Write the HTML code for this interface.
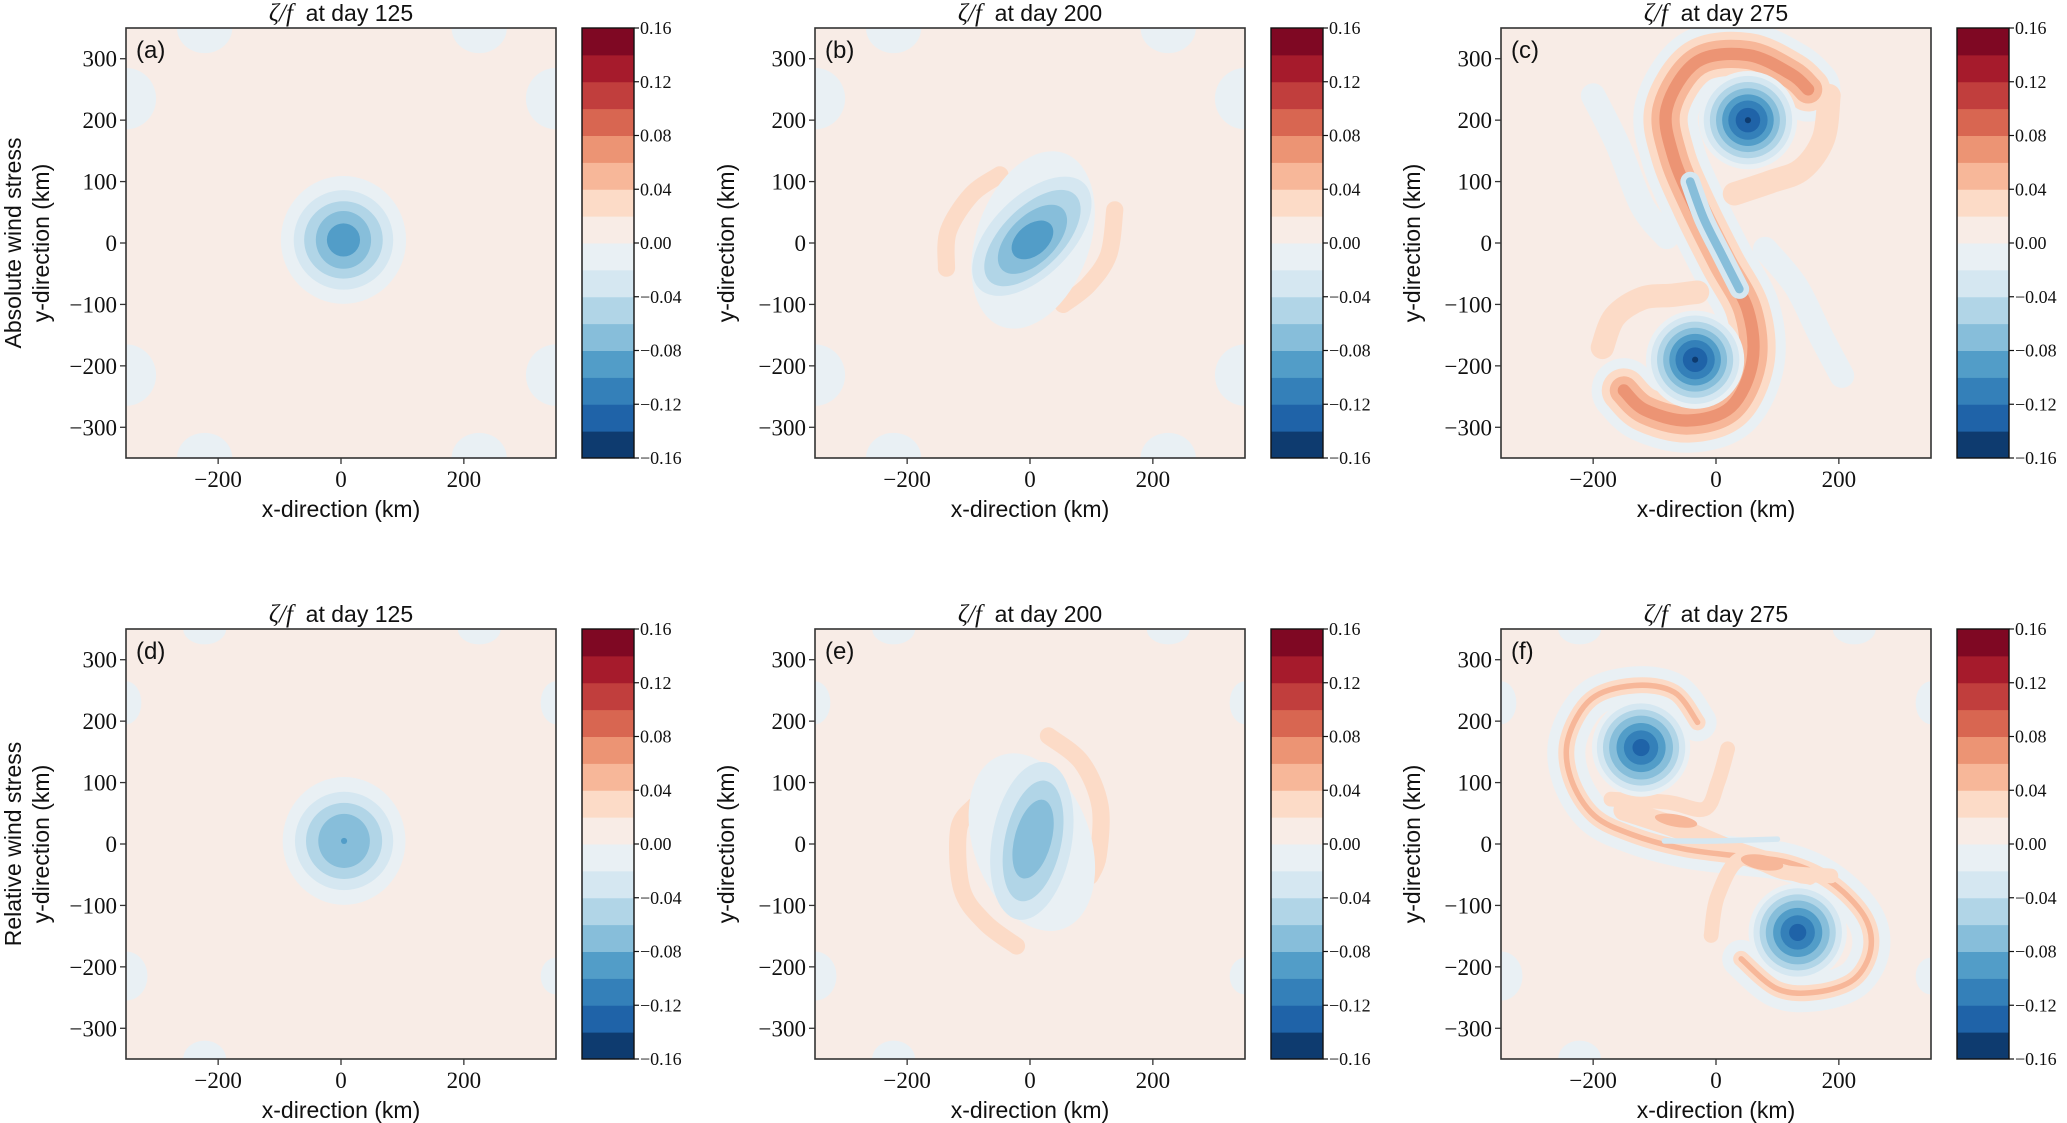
<!DOCTYPE html>
<html><head><meta charset="utf-8"><style>
html,body{margin:0;padding:0;background:#fff;}
svg{display:block;}
.tk{font-family:"Liberation Serif",serif;font-size:23px;fill:#111;}
.cb{font-family:"Liberation Serif",serif;font-size:18px;fill:#111;}
.lb{font-family:"Liberation Sans",sans-serif;font-size:23px;fill:#111;}
.pl{font-family:"Liberation Sans",sans-serif;font-size:24px;fill:#111;}
</style></head><body>
<svg id="fig" width="2067" height="1123" viewBox="0 0 2067 1123" xmlns="http://www.w3.org/2000/svg"></svg>
<script>
// ---- data ----
const levelColors = ["#0e3b6f","#1f63a8","#3480b9","#529dc8","#87beda","#b1d5e7","#d5e7f1","#e9f0f4","#f8ece6","#fcdbc7","#f7b799","#ec9474","#d86651","#c13e3d","#a61b2c","#7f0823"];
const cbarTicks = [0.16,0.12,0.08,0.04,0.00,-0.04,-0.08,-0.12,-0.16];
const cbarTickLabels = ["0.16","0.12","0.08","0.04","0.00","\u22120.04","\u22120.08","\u22120.12","\u22120.16"];
const xTicks = [-200,0,200];
const xTickLabels = ["\u2212200","0","200"];
const yTicks = [300,200,100,0,-100,-200,-300];
const yTickLabels = ["300","200","100","0","\u2212100","\u2212200","\u2212300"];
const panelTitles = ["125","200","275","125","200","275"];
const panelLetters = ["(a)","(b)","(c)","(d)","(e)","(f)"];

// ellipses: [cx, cy, rx, ry, rotDeg, levelIndex] in km
const cornersA = [[-222,350,45,41,0,7],[225,350,45,41,0,7],[-222,-350,45,41,0,7],[225,-350,45,41,0,7],[-350,235,49,50,0,7],[350,235,49,50,0,7],[-350,-215,49,50,0,7],[350,-215,49,50,0,7]];
const ellA = [[4,5,102,104,0,7],[4,5,81,81,0,6],[4,5,64,63,0,5],[4,5,45,47,0,4],[4,5,27,27,0,3]];
const ellB = [[5,5,92,150,20,7],[3,11,121,65,-45,6],[4,8,99,50,-45,5],[4,6,70,38,-45,4],[4,5,39,25,-40,3]];
const ellC = [[52,200,80,80,0,7],[52,200,72,72,0,6],[52,200,62,62,0,5],[52,200,52,52,0,4],[52,200,42,42,0,3],[52,200,32,32,0,2],[52,200,20,20,0,1],[52,200,5,5,0,0],
              [-34,-190,80,80,0,7],[-34,-190,72,72,0,6],[-34,-190,62,62,0,5],[-34,-190,52,52,0,4],[-34,-190,42,42,0,3],[-34,-190,32,32,0,2],[-34,-190,20,20,0,1],[-34,-190,5,5,0,0]];
const ellD = [[5,5,100,104,0,7],[5,5,80,80,0,6],[5,5,62,62,0,5],[5,5,42,44,0,4],[5,5,5,5,45,3]];
const ellE = [[3,3,95,150,-20,7],[3,5,65,130,10,6],[5,5,46,100,12,5],[5,8,30,66,15,4]];
const ellF = [[-65,38,35,10,10,10],[75,-30,35,12,10,10],
              [-122,157,80,80,0,7],[-122,157,72,72,0,6],[-122,157,62,62,0,5],[-122,157,52,52,0,4],[-122,157,40,40,0,3],[-122,157,28,28,0,2],[-122,157,14,14,0,1],
              [133,-144,80,80,0,7],[133,-144,72,72,0,6],[133,-144,62,62,0,5],[133,-144,52,52,0,4],[133,-144,40,40,0,3],[133,-144,28,28,0,2],[133,-144,14,14,0,1]];
const cornersSmall = [[-222,350,35,25,0,7],[225,350,35,25,0,7],[-222,-350,35,30,0,7],[-350,230,25,35,0,7],[350,230,25,35,0,7],[-350,-215,35,40,0,7],[350,-215,25,30,0,7]];

// arms: {pts:[[x,y]...] km, w: width km, lev}
const armsB = [{pts:[[-49,111],[-95,79],[-133,19],[-136,-41]],w:28,lev:9},{pts:[[138,54],[128,-19],[95,-68],[54,-100]],w:28,lev:9}];
const armsE = [{pts:[[-90,62],[-116,24],[-111,-73],[-73,-128],[-22,-166]],w:28,lev:9},{pts:[[30,176],[84,133],[114,62],[111,-19],[98,-52]],w:28,lev:9}];
const cMain = [[150,250],[122,275],[52,306],[-31,295],[-80,220],[-70,143],[-35,59],[10,-31],[52,-110],[59,-194],[24,-267],[-45,-289],[-115,-272],[-150,-240]];
const cStripe = [[-42,100],[-20,40],[10,-20],[38,-75]];
const armsC = [
  {pts:[[-200,240],[-160,160],[-120,60],[-80,10]],w:40,lev:7},
  {pts:[[80,-10],[130,-70],[170,-150],[205,-216]],w:40,lev:7},
  {pts:cMain,w:105,lev:7},
  {pts:[[184,240],[175,170],[140,120],[90,100],[30,80]],w:38,lev:9},
  {pts:[[-185,-170],[-165,-120],[-120,-90],[-70,-85],[-30,-80]],w:38,lev:9},
  {pts:cMain,w:72,lev:9},
  {pts:cMain,w:46,lev:10},
  {pts:cMain,w:20,lev:11},
  {pts:cStripe,w:32,lev:6},
  {pts:cStripe,w:14,lev:4}
];
const fMain = [[-30,198],[-68,247],[-133,258],[-203,236],[-241,171],[-236,106],[-198,46],[-133,14],[-52,-8],[30,-19],[117,-30],[187,-62],[241,-117],[252,-171],[225,-220],[165,-241],[100,-236],[41,-187]];
const fCenter = [[-150,55],[-60,25],[30,-12],[150,-50]];
const armsF = [
  {pts:fMain,w:62,lev:7},
  {pts:fCenter,w:34,lev:9},
  {pts:fMain,w:26,lev:9},
  {pts:fMain,w:9,lev:10},
  {pts:[[19,155],[3,100],[-19,57],[-79,68],[-171,73]],w:24,lev:9},
  {pts:[[-8,-149],[3,-84],[41,-24],[111,-46],[187,-52]],w:24,lev:9},
  {pts:[[-84,5],[0,5],[100,8]],w:9,lev:6}
];

const panels = [
  {left:126,top:28, ell:[...cornersA,...ellA], arms:[]},
  {left:815,top:28, ell:[...cornersA], ell2:ellB, arms:armsB},
  {left:1501,top:28, ell:[], ell2:ellC, arms:armsC},
  {left:126,top:629, ell:[...cornersSmall,...ellD], arms:[]},
  {left:815,top:629, ell:[...cornersSmall], ell2:ellE, arms:armsE},
  {left:1501,top:629, ell:[...cornersSmall], ell2:ellF, arms:armsF}
];
const cbarOffset = 456; // from axes left
// ---- drawing ----
const NS="http://www.w3.org/2000/svg";
const svg=document.getElementById('fig');
const SZ=430;
function mk(tag,attrs,parent){const e=document.createElementNS(NS,tag);for(const k in attrs)e.setAttribute(k,attrs[k]);(parent||svg).appendChild(e);return e;}
function smooth(p){let d="M"+p[0][0]+","+p[0][1];for(let i=0;i<p.length-1;i++){const p0=p[i-1]||p[i],p1=p[i],p2=p[i+1],p3=p[i+2]||p2;
 const c1=[p1[0]+(p2[0]-p0[0])/6,p1[1]+(p2[1]-p0[1])/6],c2=[p2[0]-(p3[0]-p1[0])/6,p2[1]-(p3[1]-p1[1])/6];
 d+=" C"+c1[0]+","+c1[1]+" "+c2[0]+","+c2[1]+" "+p2[0]+","+p2[1];}return d;}

panels.forEach((P,pi)=>{
  const sx=x=>P.left+(x+350)/700*SZ, sy=y=>P.top+(350-y)/700*SZ, k=SZ/700;
  const g=mk('g',{});
  
  
  const cp=mk('clipPath',{id:'clip'+pi},g);
  mk('rect',{x:P.left,y:P.top,width:SZ,height:SZ},cp);
  const plot=mk('g',{'clip-path':'url(#clip'+pi+')'},g);
  
  
  const bg=mk('rect',{x:P.left,y:P.top,width:SZ,height:SZ,fill:levelColors[8]},plot);
  
  
  const drawEll=e=>{const el=mk('ellipse',{cx:sx(e[0]),cy:sy(e[1]),rx:e[2]*k,ry:e[3]*k,fill:levelColors[e[5]],transform:`rotate(${e[4]} ${sx(e[0])} ${sy(e[1])})`},plot);
    
    };
  P.ell.forEach(drawEll);
  P.arms.forEach(a=>{const pts=a.pts.map(q=>[sx(q[0]),sy(q[1])]);
    const el=mk('path',{d:smooth(pts),fill:'none',stroke:levelColors[a.lev],'stroke-width':a.w*k,'stroke-linecap':'round','stroke-linejoin':'round'},plot);
    
    });
  (P.ell2||[]).forEach(drawEll);
  const fr=mk('rect',{x:P.left,y:P.top,width:SZ,height:SZ,fill:'none',stroke:'#333','stroke-width':1.6},g);
  
  
  const row=pi<3?0:1, base=P.top;
  xTicks.forEach((t,i)=>{mk('line',{x1:sx(t),x2:sx(t),y1:base+SZ,y2:base+SZ+6,stroke:'#333','stroke-width':1.3},g);
    const tx=mk('text',{x:sx(t),y:base+SZ+29,'text-anchor':'middle',class:'tk'},g);tx.textContent=xTickLabels[i];
    
    });
  yTicks.forEach((t,i)=>{mk('line',{x1:P.left-6,x2:P.left,y1:sy(t),y2:sy(t),stroke:'#333','stroke-width':1.3},g);
    const tx=mk('text',{x:P.left-9,y:sy(t)+8,'text-anchor':'end',class:'tk'},g);tx.textContent=yTickLabels[i];
    
    });
  const xl=mk('text',{x:P.left+SZ/2,y:base+SZ+59,'text-anchor':'middle',class:'lb'},g);xl.textContent='x-direction (km)';
  
  
  const ylx=(pi%3===0)?P.left-77:P.left-81;
  const yl=mk('text',{x:ylx,y:P.top+SZ/2,'text-anchor':'middle',class:'lb',transform:`rotate(-90 ${ylx} ${P.top+SZ/2})`},g);yl.textContent='y-direction (km)';
  
  
  if(pi%3===0){const rx=P.left-105;const rl=mk('text',{x:rx,y:P.top+SZ/2,'text-anchor':'middle',class:'lb',transform:`rotate(-90 ${rx} ${P.top+SZ/2})`},g);
    rl.textContent=row===0?'Absolute wind stress':'Relative wind stress';
    
    }
  const ti=mk('text',{x:P.left+SZ/2,y:base-7,'text-anchor':'middle',class:'lb'},g);
  ti.innerHTML='<tspan font-family="Liberation Serif" font-style="italic" font-size="25">\u03b6/f</tspan>\u00a0 at day '+panelTitles[pi];
  
  
  const pl=mk('text',{x:P.left+10,y:P.top+30,class:'pl'},g);pl.textContent=panelLetters[pi];
  
  
  const cx=P.left+cbarOffset, cw=52, bh=SZ/16;
  const cg=mk('g',{},g);
  
  
  levelColors.forEach((c,i)=>{const r=mk('rect',{x:cx,y:P.top+SZ-(i+1)*bh,width:cw,height:bh+0.5,fill:c},cg);
    
    });
  mk('rect',{x:cx,y:P.top,width:cw,height:SZ,fill:'none',stroke:'#111','stroke-width':1.4},cg);
  cbarTicks.forEach((t,i)=>{const y=P.top+(0.16-t)/0.32*SZ;
    mk('line',{x1:cx+cw,x2:cx+cw+5,y1:y,y2:y,stroke:'#111','stroke-width':1.2},cg);
    const tx=mk('text',{x:cx+cw+6,y:y+6,class:'cb'},cg);tx.textContent=cbarTickLabels[i];
    
    });
});
</script>
</body></html>
